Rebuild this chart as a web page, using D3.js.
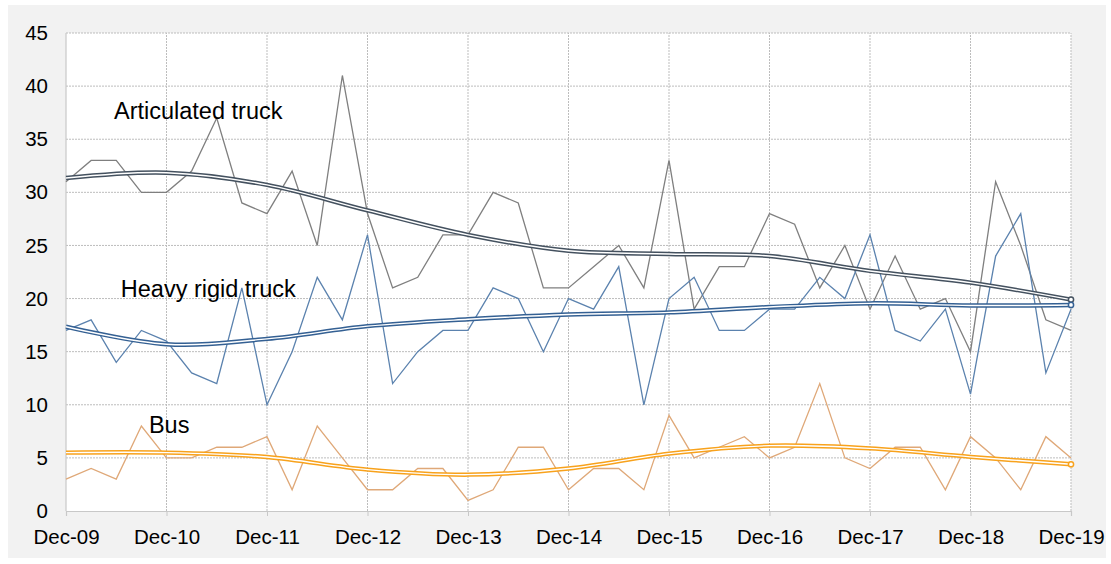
<!DOCTYPE html>
<html>
<head>
<meta charset="utf-8">
<script src="https://cdn.jsdelivr.net/npm/d3@7"></script>
<style>
  body { margin: 0; background: #ffffff; }
  text { font-family: "Liberation Sans", Arial, sans-serif; fill: #000; }
</style>
</head>
<body>
<div id="chart"></div>
<script>
// quarterly observations, Dec-09 .. Dec-19 (41 quarters)
const yearLabels = ["Dec-09", "Dec-10", "Dec-11", "Dec-12", "Dec-13", "Dec-14",
                    "Dec-15", "Dec-16", "Dec-17", "Dec-18", "Dec-19"];

const articulated = [31, 33, 33, 30, 30, 32, 37, 29, 28, 32, 25, 41, 28, 21, 22, 26,
                     26, 30, 29, 21, 21, 23, 25, 21, 33, 19, 23, 23, 28, 27, 21, 25,
                     19, 24, 19, 20, 15, 31, 25, 18, 17];
const heavyRigid  = [17, 18, 14, 17, 16, 13, 12, 21, 10, 15, 22, 18, 26, 12, 15, 17,
                     17, 21, 20, 15, 20, 19, 23, 10, 20, 22, 17, 17, 19, 19, 22, 20,
                     26, 17, 16, 19, 11, 24, 28, 13, 19];
const bus         = [3, 4, 3, 8, 5, 5, 6, 6, 7, 2, 8, 5, 2, 2, 4, 4,
                     1, 2, 6, 6, 2, 4, 4, 2, 9, 5, 6, 7, 5, 6, 12, 5,
                     4, 6, 6, 2, 7, 5, 2, 7, 5];

// trend lines read at each December
const articulatedTrend = [31.35, 31.85, 30.7, 28.3, 26.0, 24.5, 24.2, 24.0, 22.6, 21.5, 19.9];
const heavyRigidTrend  = [17.35, 15.7, 16.2, 17.4, 18.05, 18.5, 18.7, 19.2, 19.55, 19.35, 19.4];
const busTrend         = [5.5, 5.5, 5.08, 3.9, 3.42, 4.0, 5.4, 6.15, 5.9, 5.1, 4.4];

const yTicks = [0, 5, 10, 15, 20, 25, 30, 35, 40, 45];

const W = 1111, H = 564;

const svg = d3.select("#chart").append("svg")
  .attr("width", W)
  .attr("height", H);

svg.append("rect")
  .attr("x", 8).attr("y", 5)
  .attr("width", 1098).attr("height", 553)
  .attr("fill", "#f2f2f2");

const x = d3.scaleLinear()
  .domain([0, 40])
  .range([66, 1071]);

const y = d3.scaleLinear()
  .domain([0, 45])
  .range([511, 33]);

svg.append("rect")
  .attr("x", x(0)).attr("y", y(45))
  .attr("width", x(40) - x(0)).attr("height", y(0) - y(45))
  .attr("fill", "#ffffff");

// grid
const grid = svg.append("g");
grid.selectAll("line.h")
  .data(yTicks.filter(d => d > 0))
  .join("line")
  .attr("x1", x(0)).attr("x2", x(40))
  .attr("y1", d => y(d)).attr("y2", d => y(d))
  .attr("stroke", "#bdbdbd")
  .attr("stroke-width", 1)
  .attr("stroke-dasharray", "2,1");
grid.selectAll("line.v")
  .data(d3.range(1, 11))
  .join("line")
  .attr("x1", d => x(d * 4)).attr("x2", d => x(d * 4))
  .attr("y1", y(0)).attr("y2", y(45))
  .attr("stroke", "#bdbdbd")
  .attr("stroke-width", 1)
  .attr("stroke-dasharray", "2,1");

// axes
const xAxis = svg.append("g")
  .attr("transform", `translate(0,${y(0)})`)
  .call(d3.axisBottom(x)
    .tickValues(d3.range(0, 41, 4))
    .tickFormat((d, i) => yearLabels[i])
    .tickSize(5)
    .tickPadding(13));
const yAxis = svg.append("g")
  .attr("transform", `translate(${x(0)},0)`)
  .call(d3.axisLeft(y)
    .tickValues(yTicks)
    .tickSize(6)
    .tickPadding(12));

[xAxis, yAxis].forEach(a => {
  a.select(".domain").attr("stroke", "#c8c8c8").attr("stroke-width", 1.2);
  a.selectAll(".tick line").attr("stroke", "#c8c8c8");
  a.selectAll(".tick text")
    .attr("font-family", "'Liberation Sans', Arial, sans-serif")
    .attr("font-size", 20.5)
    .attr("fill", "#000");
});
yAxis.selectAll(".tick line").attr("stroke", "none");
yAxis.select(".domain").attr("d", `M0,${y(0)}V${y(45)}`);

// raw series
const rawLine = d3.line()
  .x((d, i) => x(i))
  .y(d => y(d));

const rawSeries = [
  { values: articulated, color: "#7f7f7f" },
  { values: heavyRigid,  color: "#5b82ae" },
  { values: bus,         color: "#dfa878" }
];
svg.append("g").selectAll("path")
  .data(rawSeries)
  .join("path")
  .attr("d", d => rawLine(d.values))
  .attr("fill", "none")
  .attr("stroke", d => d.color)
  .attr("stroke-width", 1.3)
  .attr("stroke-linejoin", "miter");

// double-line trend curves
const trendLine = d3.line()
  .x((d, i) => x(i * 4))
  .y(d => y(d))
  .curve(d3.curveCatmullRom.alpha(0.5));

const trends = [
  { values: articulatedTrend, color: "#44515f" },
  { values: heavyRigidTrend,  color: "#346093" },
  { values: busTrend,         color: "#f8a21c" }
];
const tg = svg.append("g");
trends.forEach(t => {
  tg.append("path")
    .attr("d", trendLine(t.values))
    .attr("fill", "none")
    .attr("stroke", t.color)
    .attr("stroke-width", 4.4);
  tg.append("path")
    .attr("d", trendLine(t.values))
    .attr("fill", "none")
    .attr("stroke", "#ffffff")
    .attr("stroke-width", 1.4);
  tg.append("circle")
    .attr("cx", x(40))
    .attr("cy", y(t.values[t.values.length - 1]))
    .attr("r", 2.6)
    .attr("fill", "#ffffff")
    .attr("stroke", t.color)
    .attr("stroke-width", 1.5);
});

// series labels
const labels = svg.append("g")
  .attr("font-family", "'Liberation Sans', Arial, sans-serif")
  .attr("font-size", 23.5);
labels.append("text").attr("x", x(1.91)).attr("y", y(36.9)).text("Articulated truck");
labels.append("text").attr("x", x(2.18)).attr("y", y(20.1)).text("Heavy rigid truck");
labels.append("text").attr("x", x(3.3)).attr("y", y(7.35)).text("Bus");
</script>
</body>
</html>
